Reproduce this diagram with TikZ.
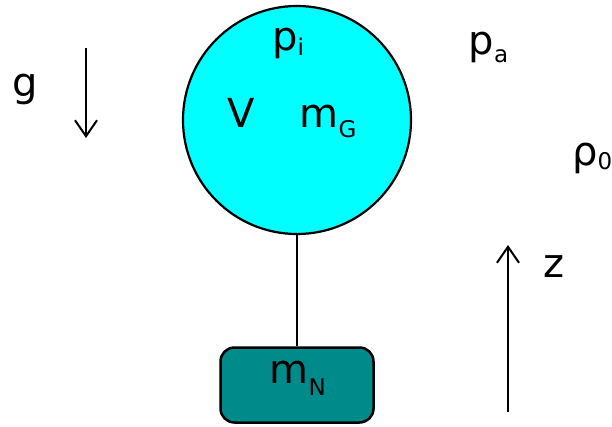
\documentclass[tikz,border=0pt]{standalone}
\usepackage{fontspec}
\setmainfont{DejaVu Sans}
\usetikzlibrary{arrows.meta}
\definecolor{balloonfill}{RGB}{0,255,255}
\definecolor{weightfill}{RGB}{0,139,139}
\newcommand\lbl[3][10pt]{#2\raisebox{-#1}{\fontsize{23}{25}\selectfont #3}}
\begin{document}
\begin{tikzpicture}[x=1pt,y=-1pt,
  txt/.style={inner sep=0pt, anchor=base west, font=\fontsize{40}{48}\selectfont},
  arr/.style={line width=2pt, -{Straight Barb[length=16pt,width=22pt,line width=2pt]}}]
\useasboundingbox (0,0) rectangle (612,426);
\clip (0,0) rectangle (612,426);
\fill[white] (0,0) rectangle (612,426);
\node (balloon) [circle, draw, fill=balloonfill, minimum size=228pt, line width=2.2pt, inner sep=0pt] at (297,120) {};
\node (mass) [draw, fill=weightfill, rounded corners=14pt, minimum width=153pt, minimum height=75pt, line width=2.5pt, inner sep=0pt] at (297,385) {};
\draw[line width=2pt] (balloon.south) -- (mass.north);
\node (pi) [txt] at (272,50) {\lbl[5pt]{p}{i}};
\node (V) [txt] at (227,127) {V};
\node (mG) [txt] at (299.5,127) {\lbl{m}{G}};
\node (mN) [txt] at (269.5,383) {\lbl[12pt]{m}{N}};
\node (g) [txt] at (12.5,96) {g};
\node (pa) [txt] at (468.5,54) {\lbl[8pt]{p}{a}};
\node (rho) [txt] at (572,165) {\lbl[4pt]{ρ}{0}};
\node (z) [txt] at (543.5,277) {z};
\coordinate (g1) at (86,48);
\coordinate (g2) at (86,138);
\draw[arr] (g1) -- (g2);
\coordinate (z1) at (508,412);
\coordinate (z2) at (508,245);
\draw[arr] (z1) -- (z2);
\end{tikzpicture}
\end{document}
